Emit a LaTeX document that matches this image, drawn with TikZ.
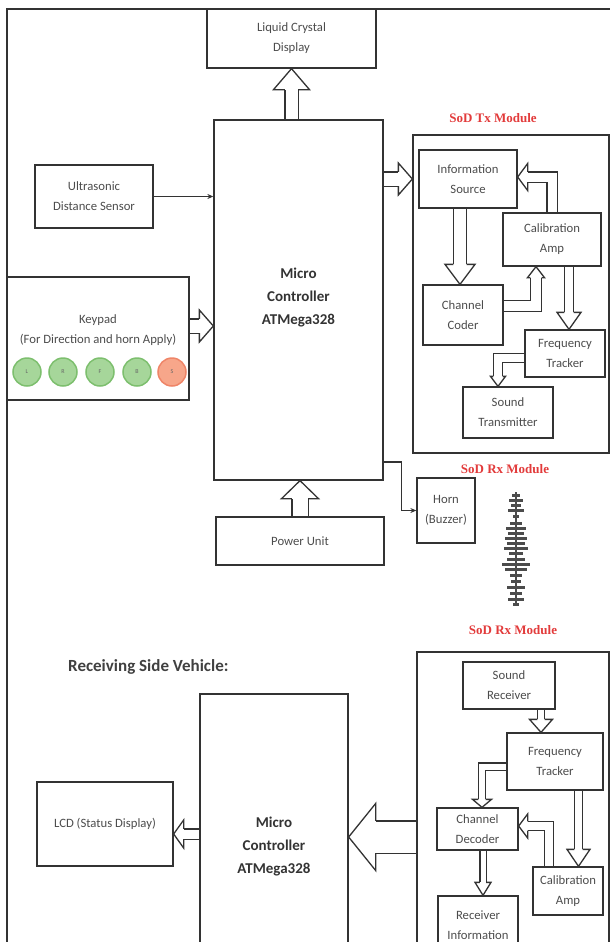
\documentclass[tikz,border=0pt]{standalone}
\usepackage{fontspec}
\setmainfont{Carlito}
\newfontfamily\modfont{Liberation Serif}
\usetikzlibrary{arrows.meta}

\definecolor{inkgray}{HTML}{333333}
\definecolor{modred}{HTML}{E23B3B}
\definecolor{keygreen}{HTML}{A6D69A}
\definecolor{keygreenrim}{HTML}{7DBF6E}
\definecolor{keyorange}{HTML}{F7A68A}
\definecolor{keyorangerim}{HTML}{EF8568}

\tikzset{
  blk/.style={draw=inkgray, line width=1.3pt, inner sep=0pt, align=center,
    text=black!70, font=\fontsize{12.7}{20}\selectfont},
  lbl/.style={inner sep=0pt, align=center, text=black!70, font=\fontsize{12.7}{20}\selectfont},
  mctext/.style={inner sep=0pt, align=center, text=black!80, font=\bfseries\fontsize{15}{23}\selectfont},
  modlbl/.style={inner sep=0pt, text=modred, font=\modfont\bfseries\fontsize{13}{15}\selectfont},
  key/.style={circle, draw=#1rim, line width=1.5pt, fill=#1, minimum size=28pt,
    inner sep=0pt, font=\fontsize{6}{6}\selectfont, text=black!60},
  conn/.style={draw=inkgray, line width=1.3pt, -{Stealth[length=6pt,width=5pt]}},
  shaft/.style={draw=inkgray, line width=1.3pt, line join=miter, double=white,
    double distance=#1pt, shorten <=0.65pt},
  hline/.style={draw=inkgray, line width=1.3pt, line join=miter},
  wave/.style={draw=black!70, line width=3pt},
  pics/hhead/.style args={#1/#2/#3}{code={
    \fill[white] (0,0) -- (-#1pt,#2pt) -- (-#1pt,-#2pt) -- cycle;
    \draw[hline] (-#1pt,{(#3/2+0.65)*1pt}) -- (-#1pt,#2pt) -- (0,0)
      -- (-#1pt,-#2pt) -- (-#1pt,{-(#3/2+0.65)*1pt});
  }},
}

\begin{document}
\begin{tikzpicture}[x=1pt, y=1pt]
  \useasboundingbox (0,0) rectangle (610,-942);
  \clip (0,0) rectangle (610,-942);

  % Frame
  \draw[hline] (7,-942) -- (7,-9) -- (610,-9);

  % Sending side blocks
  \node[blk, minimum width=169pt, minimum height=59pt] (lcd) at (291.5,-38.5) {Liquid Crystal\\Display};
  \node[blk, minimum width=169pt, minimum height=360pt] (mc) at (298.5,-300) {};
  \node[mctext] (mctext) at (298.5,-298) {Micro\\Controller\\ATMega328};
  \node[blk, minimum width=118pt, minimum height=63pt] (us) at (94,-196.5) {Ultrasonic\\Distance Sensor};
  \node[blk, minimum width=182pt, minimum height=123pt] (kp) at (98,-338.5) {};
  \node[lbl] (kptext) at (98,-330) {Keypad\\(For Direction and horn Apply)};
  \foreach \kx/\kc/\kt in {27/keygreen/L, 63/keygreen/R, 100/keygreen/F, 137/keygreen/B, 172/keyorange/S}
    \node[key=\kc] (key\kt) at (\kx,-372) {\kt};
  \node[blk, minimum width=168pt, minimum height=48pt] (pwr) at (300,-541) {Power Unit};
  \node[blk, minimum width=58pt, minimum height=65pt] (horn) at (446,-510.5) {Horn\\(Buzzer)};

  % SoD Tx module
  \node[modlbl] (txlbl) at (493,-118) {SoD Tx Module};
  \node[blk, minimum width=196pt, minimum height=318pt] (tx) at (511,-294) {};
  \node[blk, minimum width=98pt, minimum height=58pt] (src) at (468,-179) {Information\\Source};
  \node[blk, minimum width=98pt, minimum height=53pt] (cal) at (552,-239.5) {Calibration\\Amp};
  \node[blk, minimum width=80pt, minimum height=60pt] (cod) at (463,-315) {Channel\\Coder};
  \node[blk, minimum width=80pt, minimum height=47pt] (ft) at (565,-353.5) {Frequency\\Tracker};
  \node[blk, minimum width=90pt, minimum height=51pt] (st) at (508,-412.5) {Sound\\Transmitter};

  \node[modlbl] (rxlbla) at (505,-469) {SoD Rx Module};
  % sound burst
  \draw[wave, line width=2.5pt] (516,-492) -- (516,-605);
  \foreach \wy/\ww in {495/4, 500/7, 505/5, 510/8, 516/3, 523/6, 528/10, 533/8, 538/11,
      543/9, 548/12, 553/7, 559/9, 564/14, 569/11, 575/6, 581/5, 587/9, 593/6, 599/8, 604/3}
    \draw[wave] ({516-\ww},-\wy) -- ({516+\ww},-\wy);

  % Receiving side blocks
  \node[anchor=west, inner sep=0pt, text=black!75, font=\bfseries\fontsize{17}{20}\selectfont] (title) at (68,-667) {Receiving Side Vehicle:};
  \node[modlbl] (rxlblb) at (513,-630) {SoD Rx Module};
  \node[blk, minimum width=192pt, minimum height=308pt] (rx) at (513,-806) {};
  \node[blk, minimum width=148pt, minimum height=266pt] (mcr) at (274,-827) {};
  \node[mctext] (mcrtext) at (274,-846) {Micro\\Controller\\ATMega328};
  \node[blk, minimum width=136pt, minimum height=84pt] (lcdr) at (105,-824) {LCD (Status Display)};
  \node[blk, minimum width=92pt, minimum height=47pt] (sr) at (509,-685.5) {Sound\\Receiver};
  \node[blk, minimum width=96pt, minimum height=57pt] (ftr) at (555,-761.5) {Frequency\\Tracker};
  \node[blk, minimum width=81pt, minimum height=42pt] (dec) at (477.5,-829) {Channel\\Decoder};
  \node[blk, minimum width=70pt, minimum height=48pt] (calr) at (568,-891) {Calibration\\Amp};
  \node[blk, minimum width=80pt, minimum height=64pt] (ri) at (478,-928) {};
  \node[lbl] (ritext) at (478,-925) {Receiver\\Information};

  % Plain connectors
  \draw[conn] (us.east) -- (us.east -| mc.west);
  \draw[conn] ([yshift=-162pt]mc.east) -- ++(18pt,0) |- (horn.west);

  % Hollow arrows, sending side
  \draw[shaft=12, shorten >=21pt] (lcd.south |- mc.north) -- (lcd.south);
  \pic[rotate=90] at (lcd.south) {hhead=21/18/12};
  \coordinate (kpin) at ([yshift=12.5pt]kp.east -| mc.west);
  \draw[shaft=13, shorten >=14pt] ([yshift=12.5pt]kp.east) -- (kpin);
  \pic at (kpin) {hhead=14/16/13};
  \draw[shaft=15, shorten >=18pt] (pwr.north) -- (pwr.north |- mc.south);
  \pic[rotate=90] at (pwr.north |- mc.south) {hhead=18/18.5/15};
  \draw[shaft=13, shorten >=14pt] (src.west -| mc.east) -- (src.west -| tx.west);
  \pic at (src.west -| tx.west) {hhead=14/16/13};

  % Hollow arrows, Tx module
  \coordinate (codin) at ([xshift=-8pt]src.south |- cod.north);
  \draw[shaft=12, shorten >=20pt] ([xshift=-8pt]src.south) -- (codin);
  \pic[rotate=-90] at (codin) {hhead=20/15/12};
  \draw[shaft=9, shorten >=10pt] (cal.north) |- ([yshift=2pt]src.east);
  \pic[rotate=180] at ([yshift=2pt]src.east) {hhead=10/13.5/9};
  \draw[shaft=10, shorten >=11pt] ([yshift=9pt]cod.east) -| ([xshift=-16pt]cal.south);
  \pic[rotate=90] at ([xshift=-16pt]cal.south) {hhead=11/8.5/10};
  \draw[shaft=8, shorten >=17pt] ([xshift=4pt]ft.north |- cal.south) -- ([xshift=4pt]ft.north);
  \pic[rotate=-90] at ([xshift=4pt]ft.north) {hhead=17/12/8};
  \draw[shaft=8, shorten >=10pt] ([yshift=-4.5pt]ft.west) -| ([xshift=-10pt]st.north);
  \pic[rotate=-90] at ([xshift=-10pt]st.north) {hhead=10/7.5/8};

  % Hollow arrows, receiving side
  \draw[shaft=9, shorten >=10pt] ([yshift=-7pt]mcr.west) -- ([yshift=-10pt]lcdr.east);
  \pic[rotate=180] at ([yshift=-10pt]lcdr.east) {hhead=10/14/9};
  \draw[shaft=31, shorten >=27pt] ([yshift=-31pt]rx.west) -- ([yshift=-10pt]mcr.east);
  \pic[rotate=180] at ([yshift=-10pt]mcr.east) {hhead=27/33.5/31};
  \coordinate (ftrin) at ([xshift=32pt]sr.south |- ftr.north);
  \draw[shaft=6, shorten >=13pt] ([xshift=32pt]sr.south) -- (ftrin);
  \pic[rotate=-90] at (ftrin) {hhead=13/11.5/6};
  \draw[shaft=6, shorten >=8pt] ([yshift=-5pt]ftr.west) -| ([xshift=4.5pt]dec.north);
  \pic[rotate=-90] at ([xshift=4.5pt]dec.north) {hhead=8/9.5/6};
  \draw[shaft=7, shorten >=17pt] ([xshift=10.5pt]calr.north |- ftr.south) -- ([xshift=10.5pt]calr.north);
  \pic[rotate=-90] at ([xshift=10.5pt]calr.north) {hhead=17/11.5/7};
  \draw[shaft=8, shorten >=9pt] ([xshift=-19pt]calr.north) |- ([yshift=3pt]dec.east);
  \pic[rotate=180] at ([yshift=3pt]dec.east) {hhead=9/12/8};
  \coordinate (riin) at ([xshift=5.5pt]dec.south |- ri.north);
  \draw[shaft=5, shorten >=13pt] ([xshift=5.5pt]dec.south) -- (riin);
  \pic[rotate=-90] at (riin) {hhead=13/8/5};
\end{tikzpicture}
\end{document}
